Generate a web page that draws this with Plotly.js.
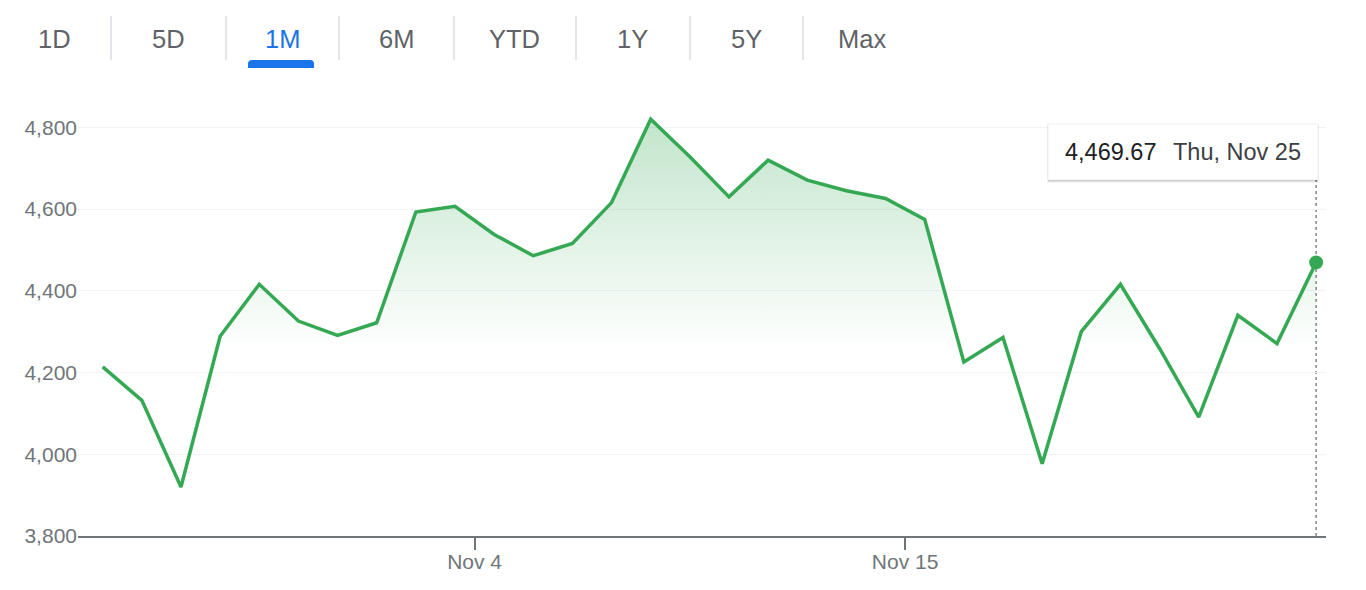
<!DOCTYPE html>
<html>
<head>
<meta charset="utf-8">
<script src="https://cdn.plot.ly/plotly-3.0.1.min.js"></script>
<style>
  html, body { margin:0; padding:0; background:#fff; }
  #chart { width:1366px; height:590px; }
</style>
</head>
<body>
<div id="chart"></div>
<script>
// ---- data ----
const dates = [
  '2021-10-25 12:00','2021-10-26 12:00','2021-10-27 12:00','2021-10-28 12:00',
  '2021-10-29 12:00','2021-10-30 12:00','2021-10-31 12:00','2021-11-01 12:00',
  '2021-11-02 12:00','2021-11-03 12:00','2021-11-04 12:00','2021-11-05 12:00',
  '2021-11-06 12:00','2021-11-07 12:00','2021-11-08 12:00','2021-11-09 12:00',
  '2021-11-10 12:00','2021-11-11 12:00','2021-11-12 12:00','2021-11-13 12:00',
  '2021-11-14 12:00','2021-11-15 12:00','2021-11-16 12:00','2021-11-17 12:00',
  '2021-11-18 12:00','2021-11-19 12:00','2021-11-20 12:00','2021-11-21 12:00',
  '2021-11-22 12:00','2021-11-23 12:00','2021-11-24 12:00','2021-11-25 12:00'
];
const values = [
  4214, 4132, 3920, 4289, 4416, 4326, 4291, 4322,
  4593, 4607, 4538, 4486, 4516, 4616, 4820, 4728,
  4630, 4720, 4671, 4645, 4626, 4575, 4226, 4286,
  3977, 4300, 4416, 4259, 4091, 4340, 4271, 4469.67
];
const xTickVals = ['2021-11-04', '2021-11-15'];
const xTickText = ['Nov 4', 'Nov 15'];
const yTickVals = [3800, 4000, 4200, 4400, 4600, 4800];
const yTickText = ['3,800', '4,000', '4,200', '4,400', '4,600', '4,800'];
const rangeTabs = ['1D', '5D', '1M', '6M', 'YTD', '1Y', '5Y', 'Max'];
const selectedTab = '1M';

// ---- layout helpers (pixel -> paper) ----
const ML = 78, MR = 40, MT = 107, MB = 54, W = 1366, H = 590;
const PW = W - ML - MR, PH = H - MT - MB;
const px = x => (x - ML) / PW;
const py = y => (H - MB - y) / PH;

const GREEN = '#34a853';
const FONT = 'Liberation Sans, Arial, Helvetica, sans-serif';

const lastIdx = values.length - 1;
const lastVal = values[lastIdx];
const lastDate = new Date(dates[lastIdx].replace(' ', 'T'));
const dayNames = ['Sun','Mon','Tue','Wed','Thu','Fri','Sat'];
const monNames = ['Jan','Feb','Mar','Apr','May','Jun','Jul','Aug','Sep','Oct','Nov','Dec'];
const valText = lastVal.toLocaleString('en-US', {minimumFractionDigits:2, maximumFractionDigits:2});
const dateText = dayNames[lastDate.getDay()] + ', ' + monNames[lastDate.getMonth()] + ' ' + lastDate.getDate();

const traces = [
  {
    x: dates, y: values, type: 'scatter', mode: 'lines',
    line: { color: GREEN, width: 3.5 },
    fill: 'tozeroy',
    fillgradient: {
      type: 'vertical', start: 4250, stop: 4820,
      colorscale: [[0, 'rgba(52,168,83,0)'], [1, 'rgba(52,168,83,0.3)']]
    },
    hoverinfo: 'skip', cliponaxis: true
  },
  {
    x: [dates[lastIdx]], y: [values[lastIdx]], type: 'scatter', mode: 'markers',
    marker: { color: GREEN, size: 14 }, hoverinfo: 'skip', cliponaxis: false
  }
];

// tabs
const tabCenters = [54, 168, 282, 396, 514, 632, 746, 862];
const sepX = [111, 226, 339, 454, 576, 690, 803];
const annotations = rangeTabs.map((t, i) => ({
  xref: 'paper', yref: 'paper', x: px(tabCenters[i]), y: py(38.5),
  xanchor: 'center', yanchor: 'middle', showarrow: false, text: t,
  font: { family: FONT, size: 25.5, color: t === selectedTab ? '#1a73e8' : '#5f6368' }
}));

// tooltip texts
annotations.push({
  xref: 'paper', yref: 'paper', x: px(1063), y: py(152), xanchor: 'left', yanchor: 'middle',
  showarrow: false, text: valText, font: { family: FONT, size: 23.5, color: '#202124' }
});
annotations.push({
  xref: 'paper', yref: 'paper', x: px(1171), y: py(152), xanchor: 'left', yanchor: 'middle',
  showarrow: false, text: dateText, font: { family: FONT, size: 23.5, color: '#3c4043' }
});

const shapes = sepX.map(x => ({
  type: 'line', xref: 'paper', yref: 'paper', x0: px(x), x1: px(x), y0: py(16), y1: py(60),
  line: { color: '#dadce0', width: 1.5 }
}));

// underline of selected tab with rounded top corners
(function () {
  const x0 = 248, x1 = 314, yT = 60, yB = 68, r = 4;
  const X = v => px(v), Y = v => py(v);
  shapes.push({
    type: 'path', xref: 'paper', yref: 'paper',
    path: `M ${X(x0)},${Y(yB)} L ${X(x0)},${Y(yT + r)} Q ${X(x0)},${Y(yT)} ${X(x0 + r)},${Y(yT)} ` +
          `L ${X(x1 - r)},${Y(yT)} Q ${X(x1)},${Y(yT)} ${X(x1)},${Y(yT + r)} L ${X(x1)},${Y(yB)} Z`,
    fillcolor: '#1a73e8', line: { width: 0 }
  });
})();

// dashed hover line
shapes.push({
  type: 'line', xref: 'x', yref: 'paper', x0: dates[lastIdx], x1: dates[lastIdx],
  y0: 0, y1: py(124), line: { color: '#80868b', width: 1.5, dash: 'dot' }, layer: 'below'
});

// tooltip box: shadow + white box
shapes.push({
  type: 'rect', xref: 'paper', yref: 'paper', x0: px(1047), x1: px(1319), y0: py(183), y1: py(124),
  fillcolor: 'rgba(0,0,0,0.05)', line: { width: 0 }
});
shapes.push({
  type: 'rect', xref: 'paper', yref: 'paper', x0: px(1048), x1: px(1318), y0: py(181.5), y1: py(124),
  fillcolor: 'rgba(0,0,0,0.12)', line: { width: 0 }
});
shapes.push({
  type: 'rect', xref: 'paper', yref: 'paper', x0: px(1048), x1: px(1318), y0: py(180), y1: py(124),
  fillcolor: '#ffffff', line: { color: 'rgba(0,0,0,0.06)', width: 1 }
});

const layout = {
  width: W, height: H,
  margin: { l: ML, r: MR, t: MT, b: MB, pad: 0 },
  paper_bgcolor: '#ffffff', plot_bgcolor: '#ffffff',
  showlegend: false, hovermode: false,
  font: { family: FONT, color: '#70757a' },
  xaxis: {
    type: 'date', range: ['2021-10-24 20:51', '2021-11-25 18:03'],
    tickmode: 'array', tickvals: xTickVals, ticktext: xTickText,
    ticks: 'outside', ticklen: 12, tickwidth: 2, tickcolor: '#70757a',
    showline: true, linecolor: '#70757a', linewidth: 2,
    showgrid: false, zeroline: false, ticklabelstandoff: -6,
    tickfont: { family: FONT, size: 21, color: '#70757a' }, fixedrange: true
  },
  yaxis: {
    range: [3800, 4850], tickmode: 'array', tickvals: yTickVals, ticktext: yTickText,
    showgrid: true, gridcolor: '#f1f3f4', gridwidth: 1, zeroline: false, showline: false,
    ticks: '', tickfont: { family: FONT, size: 21, color: '#70757a' }, fixedrange: true
  },
  annotations: annotations,
  shapes: shapes
};

Plotly.newPlot('chart', traces, layout, { displayModeBar: false, staticPlot: true });
</script>
</body>
</html>
